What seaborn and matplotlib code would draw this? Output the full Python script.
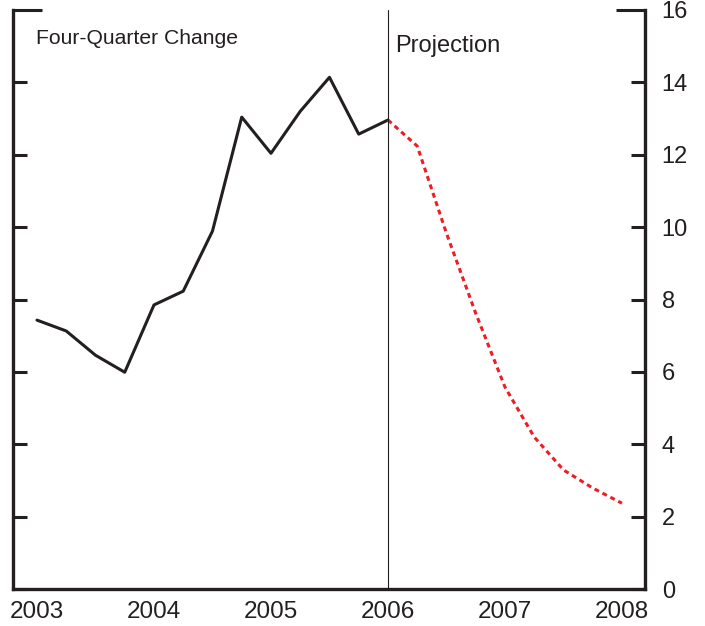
import numpy as np
import pandas as pd
import seaborn as sns
from matplotlib import pyplot as plt

# four-quarter change, history and staff projection
hist_quarters = ["2003Q1", "2003Q2", "2003Q3", "2003Q4", "2004Q1", "2004Q2", "2004Q3",
                 "2004Q4", "2005Q1", "2005Q2", "2005Q3", "2005Q4", "2006Q1"]
hist_values = [7.43, 7.13, 6.46, 5.99, 7.85, 8.23, 9.89, 13.04, 12.04, 13.2, 14.14, 12.57, 12.96]

proj_quarters = ["2006Q1", "2006Q2", "2006Q3", "2006Q4", "2007Q1", "2007Q2", "2007Q3",
                 "2007Q4", "2008Q1"]
proj_values = [12.96, 12.24, 9.83, 7.62, 5.58, 4.2, 3.29, 2.79, 2.37]

year_ticks = [2003, 2004, 2005, 2006, 2007, 2008]
y_ticks = [0, 2, 4, 6, 8, 10, 12, 14]


def to_year(q):
    p = pd.Period(q, freq="Q")
    return p.year + (p.quarter - 1) / 4


hist = pd.DataFrame({"date": [to_year(q) for q in hist_quarters], "value": hist_values})
proj = pd.DataFrame({"date": [to_year(q) for q in proj_quarters], "value": proj_values})

sns.set_style("white")
plt.rcParams["font.family"] = ["Liberation Sans", "DejaVu Sans"]

fig = plt.figure(figsize=(7.05, 6.26), dpi=100)
ax = fig.add_axes([13 / 705, 1 - 589 / 626, (645 - 13) / 705, (589 - 10) / 626])

sns.lineplot(data=hist, x="date", y="value", color="#231f20", linewidth=2.2, ax=ax)
sns.lineplot(data=proj, x="date", y="value", color="#ee1c25", linewidth=2.2,
             linestyle=(0, (1.6, 1.3)), ax=ax)
ax.axvline(2006, color="#231f20", linewidth=0.8)

ax.set_xlim(2002.795, 2008.197)
ax.set_ylim(0, 16)
ax.set_xlabel("")
ax.set_ylabel("")

for side in ["left", "bottom", "right"]:
    ax.spines[side].set_visible(True)
    ax.spines[side].set_linewidth(2.4)
    ax.spines[side].set_color("#231f20")
ax.spines["top"].set_visible(False)

ax.set_xticks(year_ticks)
ax.set_xticklabels([str(y) for y in year_ticks])
ax.set_yticks(y_ticks)
ax.set_yticks([16], minor=True)
ax.set_yticklabels([str(v) for v in y_ticks])
ax.set_yticklabels(["16"], minor=True)

ax.tick_params(axis="x", direction="in", length=10, width=2.2, color="#231f20",
               labelsize=17.5, pad=9, labelcolor="#231f20")
ax.tick_params(axis="y", which="major", direction="in", length=10, width=2.2, color="#231f20",
               left=True, right=True, labelleft=False, labelright=True,
               labelsize=17, pad=12, labelcolor="#231f20")
ax.tick_params(axis="y", which="minor", direction="in", length=21, width=2.2, color="#231f20",
               left=True, right=True, labelleft=False, labelright=True,
               labelsize=17, pad=12, labelcolor="#231f20")

ax.text(0.037, 0.950, "Four-Quarter Change", transform=ax.transAxes, fontsize=15.2,
        color="#231f20", va="center", ha="left")
ax.text(2006.065, 15.0, "Projection", fontsize=17, color="#231f20", va="center", ha="left")

fig.savefig("out.png", dpi=100)
